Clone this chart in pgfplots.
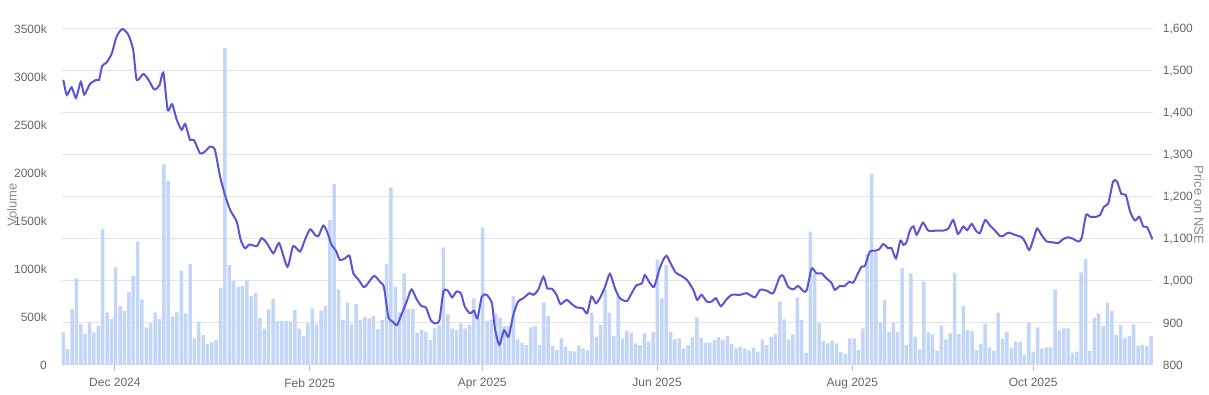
\documentclass[border=0pt]{standalone}
\usepackage{fontspec}
\setmainfont{Liberation Sans}
\usepackage{pgfplots}
\pgfplotsset{compat=1.18}
\definecolor{barblue}{HTML}{C3D6F8}
\definecolor{linecol}{HTML}{5B54D8}
\definecolor{gridgray}{HTML}{E3E3E3}
\definecolor{tickgray}{HTML}{666666}
\definecolor{labgray}{HTML}{8A8A8A}
\pgfplotsset{
  base/.style={scale only axis, width=1091.6bp, height=336bp,
    xmin=-0.37, xmax=249.5, axis line style={draw=none},
    tick label style={font=\fontsize{12bp}{14bp}\selectfont, text=tickgray}},
}
\begin{document}
\begin{tikzpicture}
% price scale: grid and right labels
\begin{axis}[base, ymin=800, ymax=1600,
  ytick={800,900,...,1600},
  yticklabels={800,900,{1,000},{1,100},{1,200},{1,300},{1,400},{1,500},{1,600}},
  yticklabel pos=right, ymajorgrids, grid style={gridgray, line width=1bp},
  xtick=\empty, ytick style={draw=none},
  yticklabel style={anchor=west, xshift=6bp}]
\end{axis}
% volume bars
\begin{axis}[base, ymin=0, ymax=3500,
  ytick={0,500,...,3500},
  yticklabels={0,500k,1000k,1500k,2000k,2500k,3000k,3500k},
  ytick pos=left, ytick style={draw=none},
  yticklabel style={anchor=east, xshift=-5.4bp},
  xtick={11.8,56.4,95.9,135.9,180.6,222.0},
  xticklabels={Dec 2024,Feb 2025,Apr 2025,Jun 2025,Aug 2025,Oct 2025},
  xticklabel style={yshift=-4bp},
  xtick pos=lower, tick align=outside, major tick length=6bp,
  xtick style={draw=tickgray!40, line width=0.8bp},
  ybar, bar width=0.8]
\addplot[fill=barblue, draw=none] table {
x y
0 340
1 165
2 583
3 903
4 427
5 323
6 441
7 340
8 406
9 1417
10 549
11 479
12 1017
13 615
14 566
15 757
16 927
17 1285
18 684
19 392
20 434
21 549
22 479
23 2090
24 1917
25 503
26 549
27 983
28 538
29 1052
30 278
31 450
32 310
33 220
34 235
35 260
36 800
37 3300
38 1040
39 875
40 815
41 825
42 880
43 720
44 755
45 490
46 380
47 580
48 690
49 460
50 460
51 460
52 455
53 575
54 380
55 300
56 434
57 590
58 424
59 566
60 615
61 1510
62 1885
63 788
64 469
65 650
66 420
67 635
68 469
69 497
70 486
71 510
72 372
73 469
74 1052
75 1850
76 816
77 545
78 955
79 583
80 583
81 335
82 365
83 347
84 260
85 382
86 420
87 1225
88 531
89 382
90 365
91 434
92 382
93 417
94 694
95 486
96 1434
97 462
98 476
99 538
100 493
101 406
102 406
103 719
104 267
105 233
106 208
107 392
108 406
109 208
110 653
111 510
112 198
113 156
114 278
115 191
116 146
117 139
118 201
119 174
120 156
121 545
122 295
123 417
124 788
125 545
126 302
127 719
128 278
129 358
130 337
131 226
132 208
133 330
134 243
135 347
136 1101
137 694
138 1042
139 347
140 267
141 278
142 174
143 208
144 288
145 497
146 285
147 233
148 233
149 260
150 288
151 260
152 302
153 219
154 174
155 191
156 170
157 149
158 181
159 139
160 267
161 208
162 295
163 323
164 660
165 476
166 267
167 319
168 705
169 469
170 128
171 1389
172 948
173 434
174 250
175 226
176 253
177 226
178 139
179 115
180 278
181 278
182 156
183 382
184 1156
185 1990
186 1181
187 444
188 677
189 347
190 441
191 347
192 1007
193 208
194 955
195 295
196 163
197 868
198 340
199 319
200 149
201 410
202 267
203 330
204 962
205 323
206 618
207 365
208 354
209 156
210 219
211 427
212 184
213 149
214 545
215 271
216 347
217 174
218 243
219 243
220 104
221 444
222 139
223 392
224 174
225 184
226 184
227 788
228 358
229 382
230 382
231 128
232 139
233 965
234 1104
235 146
236 493
237 538
238 406
239 649
240 562
241 312
242 417
243 278
244 302
245 424
246 201
247 208
248 201
249 302
};
\end{axis}
% price line
\begin{axis}[base, ymin=800, ymax=1600, hide axis]
\addplot[linecol, line width=2bp, smooth, tension=0.4] table {
x y
0 1479
0.8 1443
1.9 1461
2.9 1436
4.0 1474
4.8 1444
6.1 1469
7.6 1479
8.2 1479
8.9 1512
9.9 1520
11.1 1542
12.2 1582
13.5 1600
14.9 1586
16.0 1550
16.8 1479
18.3 1493
19.5 1479
20.8 1456
22.0 1466
22.9 1496
23.9 1407
24.9 1421
26.0 1383
27.1 1360
27.9 1374
29.0 1336
29.9 1336
31.3 1304
32.4 1308
33.6 1320
34.7 1312
35.9 1248
37.0 1205
38.2 1169
39.7 1141
40.6 1098
41.6 1078
42.6 1087
44.3 1083
45.4 1102
46.6 1090
48.1 1066
49.4 1090
51.3 1034
52.6 1083
54.2 1070
55.3 1098
56.5 1123
57.6 1110
58.4 1107
59.5 1132
60.4 1117
61.4 1086
62.4 1072
63.3 1050
64.5 1054
65.5 1060
66.4 1018
67.5 1004
68.7 986
69.4 990
71.1 1012
72.5 998
73.4 985
74.4 915
75.4 903
76.4 895
77.5 923
78.6 951
79.7 980
80.9 956
82.0 940
83.0 937
84.1 907
85.1 899
86.1 907
87.0 975
88.0 977
89.0 961
90.0 975
91.0 971
91.9 939
93.1 923
94.0 929
94.8 911
95.8 963
96.9 967
98.1 947
98.8 887
99.8 848
100.9 883
101.9 867
103.0 919
104.1 951
105.3 959
106.7 971
107.6 967
108.7 979
109.9 1010
110.8 982
111.8 982
112.9 967
113.8 945
115.2 955
116.4 945
117.5 937
118.9 935
119.9 923
120.9 963
121.9 947
122.8 959
124.0 986
125.1 1017
126.3 982
127.4 959
129.0 952
130.1 971
131.2 990
132.4 994
133.1 1014
134.1 998
135.2 986
136.4 1026
137.3 1050
138.1 1060
139.0 1042
140.2 1020
141.5 1012
142.8 1002
144.2 979
145.1 955
146.1 967
147.3 951
148.4 951
149.4 959
150.5 940
151.7 955
153.0 967
154.9 967
156.4 971
158.3 961
159.5 979
161.0 977
162.5 971
164.0 1010
164.8 1012
165.9 986
167.1 980
168.2 988
169.5 975
170.2 979
171.3 1030
172.4 1018
173.6 1018
174.7 1006
175.8 996
176.6 979
177.7 988
178.8 988
179.9 998
180.8 996
181.9 1018
182.7 1034
183.5 1036
184.6 1070
185.7 1072
186.7 1075
187.7 1088
188.8 1078
189.6 1078
190.6 1054
191.6 1096
192.3 1086
193.0 1092
193.8 1121
194.6 1130
195.3 1110
195.9 1121
196.8 1139
198.0 1120
199.9 1120
201.4 1120
202.6 1125
203.7 1145
204.8 1112
206.0 1130
206.9 1121
207.9 1136
208.9 1120
209.8 1114
211.0 1145
212.1 1132
213.2 1121
214.4 1107
215.1 1107
216.3 1115
217.8 1110
219.4 1104
220.1 1094
221.1 1074
222.0 1098
222.9 1125
223.9 1110
225.1 1094
226.6 1092
227.7 1090
228.9 1100
230.0 1104
231.2 1100
232.3 1094
233.1 1102
234.1 1157
235.0 1153
236.5 1153
237.3 1157
238.2 1177
239.2 1185
240.3 1237
241.2 1237
242.2 1207
243.2 1205
244.2 1165
245.3 1144
246.3 1153
247.2 1130
248.1 1128
249.3 1099
};
\end{axis}
\node[rotate=90, font=\fontsize{13bp}{15bp}\selectfont, text=labgray] at (-49.7bp,160bp) {Volume};
\node[rotate=-90, font=\fontsize{13bp}{15bp}\selectfont, text=labgray] at (1137.3bp,160bp) {Price on NSE};
\pgfresetboundingbox
\path[use as bounding box] (-61.7bp,-30bp) rectangle (1147.3bp,365bp);
\end{tikzpicture}
\end{document}
